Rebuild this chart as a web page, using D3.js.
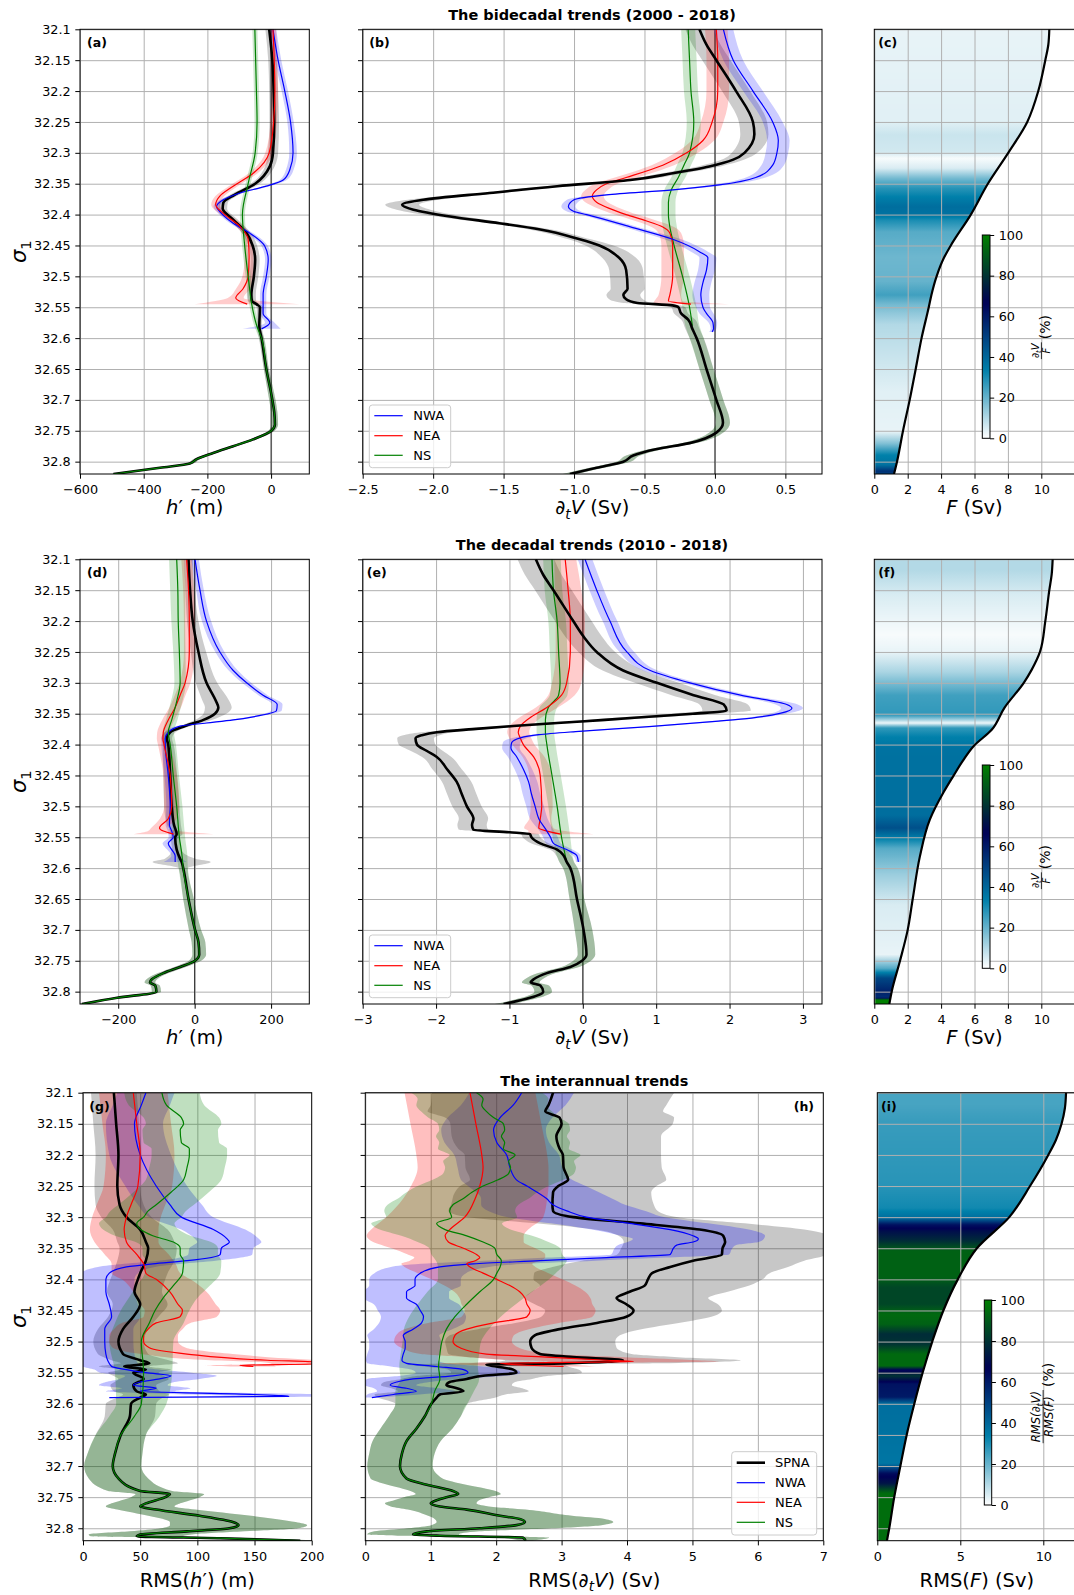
<!DOCTYPE html>
<html><head><meta charset="utf-8">
<script src="https://cdn.jsdelivr.net/npm/d3@7"></script>
<style>body{margin:0;background:#fff;} svg{display:block;}</style>
</head><body>
<script>
// ================= DATA =================
const sigmaTicks = [32.1,32.15,32.2,32.25,32.3,32.35,32.4,32.45,32.5,32.55,32.6,32.65,32.7,32.75,32.8];
const sigmaRange = [32.1, 32.82];
const titles = ["The bidecadal trends (2000 - 2018)","The decadal trends (2010 - 2018)","The interannual trends"];
const legendRows12 = ["NWA","NEA","NS"];
const legendRows3 = ["SPNA","NWA","NEA","NS"];
const xTicks_a = [-600,-400,-200,0];
const xTicks_b = [-2.5,-2.0,-1.5,-1.0,-0.5,0.0,0.5];
const xTicks_c = [0,2,4,6,8,10];
const xTicks_d = [-200,0,200];
const xTicks_e = [-3,-2,-1,0,1,2,3];
const xTicks_g = [0,50,100,150,200];
const xTicks_h = [0,1,2,3,4,5,6,7];
const xTicks_i = [0,5,10];
const cbarTicks = [0,20,40,60,80,100];

// each point: [sigma1, value, band half-width]
// ---- (a) h' bidecadal (m)
const a_SPNA = [[32.10,-6,12],[32.15,4,13],[32.20,8,14],[32.25,10,15],[32.30,6,16],[32.322,-4,15],[32.35,-50,14],[32.368,-115,14],[32.381,-150,14],[32.39,-152,14],[32.408,-119,14],[32.43,-77,14],[32.45,-58,14],[32.473,-50,14],[32.50,-54,14],[32.53,-62,14],[32.54,-60,13],[32.545,-46,12],[32.55,-35,10],[32.58,-37,8]];
const a_deep = [[32.60,-30,8],[32.65,-15,8],[32.70,4,10],[32.72,10,10],[32.74,12,10],[32.75,1,10],[32.764,-57,10],[32.775,-119,10],[32.786,-182,10],[32.796,-234,10],[32.803,-255,10],[32.81,-349,8],[32.82,-495,6]];
const a_NWA = [[32.10,6,10],[32.15,22,10],[32.20,43,10],[32.25,61,10],[32.30,69,12],[32.327,59,12],[32.344,38,11],[32.354,-15,10],[32.365,-98,10],[32.376,-150,10],[32.387,-171,10],[32.398,-156,10],[32.414,-119,10],[32.43,-67,10],[32.451,-20,10],[32.473,-9,10],[32.50,-15,10],[32.53,-25,10],[32.56,-25,10],[32.575,-4,15],[32.585,-30,60]];
const a_NEA = [[32.10,6,10],[32.15,10,10],[32.20,12,10],[32.25,8,10],[32.30,-6,12],[32.333,-56,14],[32.354,-119,14],[32.37,-161,14],[32.384,-174,14],[32.398,-150,14],[32.419,-98,12],[32.44,-72,12],[32.47,-69,14],[32.50,-72,18],[32.52,-88,22],[32.535,-111,25],[32.545,-75,165]];
const a_NS = [[32.10,-51,8],[32.20,-46,8],[32.25,-44,8],[32.30,-50,8],[32.35,-72,8],[32.40,-90,8],[32.45,-83,8],[32.50,-72,8],[32.55,-59,8],[32.58,-45,8]];

// ---- (b) dV/dt bidecadal (Sv)
const b_SPNA = [[32.10,-0.11,0.1],[32.125,-0.06,0.1],[32.15,0.01,0.1],[32.20,0.15,0.1],[32.25,0.27,0.1],[32.27,0.28,0.1],[32.30,0.21,0.09],[32.311,0.13,0.08],[32.322,-0.04,0.08],[32.333,-0.3,0.08],[32.344,-0.6,0.08],[32.354,-1.12,0.08],[32.365,-1.6,0.09],[32.376,-2.07,0.11],[32.384,-2.22,0.12],[32.392,-2.14,0.12],[32.403,-1.88,0.1],[32.414,-1.53,0.08],[32.424,-1.24,0.08],[32.44,-0.96,0.08],[32.45,-0.82,0.1],[32.47,-0.68,0.12],[32.49,-0.63,0.12],[32.52,-0.62,0.12],[32.53,-0.65,0.12],[32.537,-0.63,0.12],[32.543,-0.55,0.1],[32.547,-0.3,0.06],[32.55,-0.26,0.05],[32.56,-0.24,0.05],[32.57,-0.19,0.05],[32.585,-0.16,0.05]];
const b_deep = [[32.60,-0.13,0.05],[32.65,-0.06,0.05],[32.70,0.01,0.05],[32.737,0.057,0.05],[32.753,0.01,0.05],[32.77,-0.18,0.05],[32.78,-0.42,0.05],[32.79,-0.58,0.05],[32.80,-0.65,0.05],[32.81,-0.84,0.05],[32.82,-1.03,0.05]];
const b_NWA = [[32.10,0.06,0.07],[32.15,0.13,0.07],[32.20,0.27,0.07],[32.25,0.41,0.07],[32.28,0.45,0.08],[32.30,0.44,0.08],[32.32,0.41,0.08],[32.34,0.29,0.07],[32.352,0.03,0.06],[32.36,-0.3,0.05],[32.368,-0.77,0.05],[32.376,-1.0,0.05],[32.387,-1.04,0.05],[32.395,-1.0,0.05],[32.40,-0.91,0.05],[32.42,-0.6,0.05],[32.44,-0.3,0.06],[32.46,-0.11,0.06],[32.47,-0.05,0.06],[32.49,-0.06,0.06],[32.51,-0.085,0.06],[32.53,-0.1,0.06],[32.55,-0.085,0.05],[32.56,-0.06,0.05],[32.575,-0.014,0.03],[32.585,-0.01,0.02],[32.59,-0.02,0.02]];
const b_NEA = [[32.10,0.01,0.08],[32.15,0.02,0.08],[32.20,0.02,0.08],[32.25,-0.02,0.08],[32.28,-0.085,0.08],[32.30,-0.2,0.08],[32.32,-0.37,0.08],[32.34,-0.63,0.08],[32.35,-0.77,0.08],[32.36,-0.84,0.08],[32.37,-0.87,0.08],[32.38,-0.84,0.08],[32.39,-0.75,0.08],[32.40,-0.63,0.08],[32.41,-0.49,0.08],[32.42,-0.37,0.08],[32.43,-0.32,0.08],[32.45,-0.3,0.08],[32.50,-0.3,0.08],[32.53,-0.32,0.08],[32.54,-0.33,0.1],[32.545,-0.17,0.27]];
const b_NS = [[32.10,-0.19,0.05],[32.15,-0.18,0.05],[32.20,-0.17,0.05],[32.25,-0.15,0.05],[32.30,-0.18,0.05],[32.32,-0.22,0.05],[32.34,-0.26,0.05],[32.36,-0.31,0.05],[32.38,-0.33,0.05],[32.40,-0.33,0.05],[32.42,-0.32,0.05],[32.45,-0.29,0.05],[32.50,-0.23,0.05],[32.55,-0.18,0.05],[32.58,-0.16,0.05]];

// ---- (c) F bidecadal (Sv) and ratio (%)
const c_F = [[32.10,10.48],[32.125,10.42],[32.15,10.24],[32.20,9.82],[32.25,9.16],[32.30,8.02],[32.35,6.8],[32.40,5.78],[32.45,4.58],[32.47,4.17],[32.50,3.73],[32.53,3.42],[32.55,3.26],[32.60,2.83],[32.65,2.48],[32.70,2.12],[32.75,1.72],[32.80,1.36],[32.82,1.18]];
const c_ratio = [[32.10,3],[32.25,4],[32.271,7],[32.298,6],[32.309,1],[32.325,5],[32.341,18],[32.357,28],[32.373,34],[32.387,38],[32.40,37],[32.409,30],[32.428,22],[32.47,19],[32.508,20],[32.53,25],[32.546,18],[32.578,10],[32.632,7],[32.686,4],[32.751,3],[32.77,16],[32.789,33],[32.805,37],[32.816,55],[32.82,48]];

// ---- (d) h' decadal (m)
const d_SPNA = [[32.10,-16,12],[32.15,-12,12],[32.20,-5,15],[32.25,10,20],[32.30,31,28],[32.33,56,35],[32.34,62,35],[32.35,53,30],[32.36,23,22],[32.37,-25,15],[32.38,-64,14],[32.39,-73,14],[32.40,-69,14],[32.45,-64,18],[32.50,-60,20],[32.53,-54,18],[32.545,-47,15],[32.55,-51,12],[32.57,-47,12],[32.585,-38,40],[32.59,-34,76]];
const d_deep = [[32.60,-30,12],[32.65,-16,14],[32.70,1,16],[32.72,10,18],[32.74,12,18],[32.75,1,16],[32.76,-38,15],[32.77,-82,14],[32.78,-112,14],[32.785,-117,14],[32.79,-103,12],[32.80,-100,12],[32.81,-203,10],[32.82,-295,8]];
const d_NWA = [[32.10,1,10],[32.15,14,10],[32.20,31,12],[32.25,66,12],[32.28,101,12],[32.30,136,12],[32.32,179,12],[32.335,216,14],[32.345,214,14],[32.355,153,10],[32.36,101,10],[32.365,31,10],[32.37,-38,10],[32.38,-69,10],[32.39,-77,10],[32.40,-77,10],[32.45,-69,10],[32.50,-64,10],[32.53,-66,10],[32.54,-60,10],[32.55,-56,12],[32.56,-69,15],[32.57,-60,12],[32.58,-51,10],[32.59,-51,30]];
const d_NEA = [[32.10,-21,14],[32.15,-16,14],[32.20,-14,14],[32.25,-14,14],[32.30,-25,14],[32.32,-38,14],[32.34,-51,15],[32.36,-69,16],[32.38,-82,16],[32.39,-83,16],[32.40,-80,16],[32.45,-64,18],[32.50,-60,20],[32.52,-69,22],[32.535,-92,22],[32.54,-82,40],[32.545,-55,105]];
const d_NS = [[32.10,-47,20],[32.15,-44,20],[32.20,-43,18],[32.25,-40,16],[32.30,-38,15],[32.33,-47,15],[32.36,-60,15],[32.38,-69,15],[32.40,-64,15],[32.45,-56,15],[32.50,-47,15],[32.55,-40,15],[32.58,-33,14]];

// ---- (e) dV/dt decadal (Sv)
const e_SPNA = [[32.10,-0.64,0.25],[32.125,-0.54,0.25],[32.15,-0.4,0.25],[32.20,-0.13,0.25],[32.225,0.01,0.25],[32.25,0.19,0.25],[32.28,0.55,0.28],[32.30,1.01,0.3],[32.32,1.51,0.3],[32.335,1.92,0.33],[32.345,1.96,0.33],[32.35,1.5,0.3],[32.355,0.9,0.27],[32.36,0.3,0.25],[32.365,-0.35,0.22],[32.37,-0.95,0.2],[32.375,-1.5,0.2],[32.38,-1.99,0.22],[32.385,-2.2,0.25],[32.39,-2.28,0.25],[32.40,-2.26,0.25],[32.41,-2.13,0.22],[32.42,-1.99,0.2],[32.44,-1.85,0.2],[32.46,-1.72,0.2],[32.48,-1.65,0.2],[32.50,-1.58,0.2],[32.52,-1.49,0.2],[32.53,-1.51,0.2],[32.538,-1.49,0.2],[32.542,-1.0,0.15],[32.545,-0.72,0.12],[32.55,-0.7,0.12],[32.56,-0.58,0.12],[32.57,-0.35,0.1],[32.58,-0.26,0.1],[32.59,-0.22,0.1]];
const e_deep = [[32.60,-0.17,0.1],[32.65,-0.08,0.1],[32.70,0.01,0.12],[32.74,0.05,0.12],[32.75,-0.01,0.12],[32.76,-0.17,0.12],[32.77,-0.49,0.12],[32.78,-0.67,0.12],[32.785,-0.71,0.12],[32.79,-0.58,0.12],[32.80,-0.54,0.12],[32.81,-0.72,0.12],[32.82,-1.08,0.12]];
const e_NWA = [[32.10,0.03,0.1],[32.15,0.19,0.1],[32.20,0.37,0.1],[32.25,0.6,0.1],[32.28,0.92,0.1],[32.30,1.46,0.1],[32.32,2.15,0.12],[32.335,2.78,0.15],[32.341,2.85,0.15],[32.349,2.7,0.12],[32.357,2.3,0.1],[32.362,1.85,0.1],[32.371,0.9,0.1],[32.379,-0.1,0.1],[32.384,-0.6,0.1],[32.389,-0.85,0.1],[32.397,-0.97,0.12],[32.405,-0.98,0.12],[32.42,-0.9,0.12],[32.44,-0.81,0.12],[32.46,-0.74,0.12],[32.48,-0.7,0.12],[32.50,-0.65,0.12],[32.52,-0.6,0.12],[32.54,-0.49,0.1],[32.55,-0.44,0.1],[32.56,-0.4,0.1],[32.57,-0.22,0.08],[32.58,-0.08,0.05],[32.59,-0.06,0.03]];
const e_NEA = [[32.10,-0.24,0.15],[32.15,-0.2,0.18],[32.20,-0.17,0.2],[32.25,-0.17,0.2],[32.30,-0.22,0.2],[32.32,-0.29,0.18],[32.34,-0.49,0.15],[32.355,-0.7,0.15],[32.37,-0.85,0.15],[32.38,-0.88,0.15],[32.39,-0.85,0.15],[32.40,-0.81,0.15],[32.42,-0.67,0.15],[32.45,-0.58,0.15],[32.50,-0.56,0.15],[32.52,-0.58,0.15],[32.535,-0.6,0.2],[32.54,-0.49,0.25],[32.545,-0.3,0.45]];
const e_NS = [[32.10,-0.42,0.12],[32.15,-0.4,0.12],[32.20,-0.35,0.12],[32.25,-0.33,0.12],[32.30,-0.31,0.12],[32.32,-0.33,0.12],[32.34,-0.47,0.12],[32.36,-0.51,0.12],[32.38,-0.51,0.12],[32.40,-0.49,0.12],[32.45,-0.42,0.12],[32.50,-0.35,0.12],[32.55,-0.29,0.12],[32.59,-0.22,0.1]];

// ---- (f) F decadal (Sv) and ratio (%)
const f_F = [[32.10,10.68],[32.125,10.62],[32.15,10.48],[32.20,10.24],[32.25,9.92],[32.279,9.42],[32.30,8.95],[32.34,7.8],[32.376,7.03],[32.403,5.93],[32.425,5.33],[32.451,4.73],[32.478,4.13],[32.521,3.33],[32.581,2.73],[32.65,2.3],[32.70,2.0],[32.75,1.54],[32.80,1.04],[32.82,0.9]];
const f_ratio = [[32.10,10],[32.117,10],[32.158,5],[32.222,1],[32.25,3],[32.282,11],[32.32,25],[32.352,27],[32.36,12],[32.365,2],[32.37,18],[32.373,27],[32.387,33],[32.406,37],[32.514,38],[32.535,46],[32.551,34],[32.568,22],[32.611,13],[32.66,5],[32.74,3],[32.762,22],[32.778,48],[32.80,58],[32.81,55],[32.813,100],[32.82,100]];

// ---- (g) RMS(h') interannual (m)
const g_SPNA = [[32.10,27,20],[32.15,29,20],[32.20,31,20],[32.25,30,20],[32.28,32,21],[32.30,38,22],[32.32,50,24],[32.34,55,25],[32.35,57,25],[32.37,55,25],[32.39,50,24],[32.40,48,24],[32.42,45,24],[32.44,50,24],[32.46,44,22],[32.48,35,22],[32.50,31,22],[32.52,35,22],[32.53,50,25],[32.535,58,25],[32.54,36,22],[32.545,55,22],[32.55,44,22],[32.56,53,22],[32.57,44,20],[32.58,47,20],[32.585,55,20],[32.59,50,20],[32.60,42,22],[32.62,41,22]];
const g_deep = [[32.65,33,22],[32.68,28,24],[32.70,26,25],[32.72,31,26],[32.74,50,28],[32.745,76,30],[32.75,72,30],[32.76,55,30],[32.765,50,30],[32.77,64,34],[32.78,102,45],[32.79,131,55],[32.795,136,60],[32.80,128,60],[32.805,91,50],[32.81,50,45],[32.813,47,40],[32.816,120,30],[32.82,190,20]];
const g_NWA = [[32.10,55,25],[32.12,51,25],[32.15,45,25],[32.20,50,27],[32.25,64,27],[32.28,76,28],[32.30,86,28],[32.32,114,28],[32.335,126,28],[32.34,128,28],[32.35,121,28],[32.36,120,28],[32.37,91,25],[32.375,61,25],[32.38,38,25],[32.39,23,25],[32.40,20,25],[32.42,20,25],[32.44,23,25],[32.46,25,25],[32.48,19,25],[32.50,19,25],[32.52,20,25],[32.54,25,25],[32.545,38,28],[32.55,55,40],[32.555,77,40],[32.56,67,35],[32.565,50,30],[32.57,44,30],[32.575,64,30],[32.58,50,30],[32.585,149,60],[32.588,180,40],[32.59,23,20]];
const g_NEA = [[32.10,44,30],[32.15,47,30],[32.20,50,30],[32.25,48,30],[32.28,42,30],[32.30,38,30],[32.32,36,30],[32.34,38,28],[32.36,47,28],[32.375,53,28],[32.39,55,30],[32.40,64,30],[32.42,76,32],[32.44,83,33],[32.45,87,33],[32.46,85,32],[32.47,64,30],[32.48,57,30],[32.49,53,30],[32.50,53,30],[32.51,58,32],[32.52,91,40],[32.53,161,50],[32.533,205,50],[32.536,205,40],[32.538,137,30],[32.54,149,20]];
const g_NS = [[32.10,69,33],[32.12,73,33],[32.14,86,33],[32.15,88,33],[32.16,85,33],[32.18,86,33],[32.19,93,33],[32.20,93,33],[32.22,91,33],[32.24,88,33],[32.26,77,33],[32.28,64,33],[32.29,57,33],[32.30,53,33],[32.31,47,33],[32.33,61,33],[32.34,79,33],[32.35,85,33],[32.36,85,33],[32.37,88,33],[32.39,87,33],[32.41,79,32],[32.43,70,30],[32.45,63,30],[32.47,58,30],[32.50,51,28],[32.55,53,25],[32.60,51,22],[32.62,45,22]];

// ---- (h) RMS(dV/dt) interannual (Sv)
const h_SPNA = [[32.10,2.87,1.85],[32.12,2.8,1.8],[32.13,2.75,1.8],[32.14,2.97,1.75],[32.15,3.0,1.7],[32.17,2.92,1.6],[32.19,2.97,1.55],[32.20,3.02,1.5],[32.22,3.03,1.5],[32.24,3.1,1.5],[32.25,2.95,1.5],[32.26,2.87,1.5],[32.28,2.86,1.55],[32.29,2.87,1.6],[32.30,3.18,1.6],[32.31,4.2,1.6],[32.32,5.11,1.6],[32.33,5.47,1.6],[32.34,5.5,1.55],[32.35,5.46,1.55],[32.36,5.45,1.6],[32.37,5.01,1.7],[32.38,4.66,1.8],[32.39,4.38,1.8],[32.40,4.32,1.75],[32.41,4.27,1.6],[32.42,4.04,1.5],[32.43,3.84,1.4],[32.44,3.99,1.4],[32.45,4.1,1.35],[32.46,3.99,1.3],[32.47,3.54,1.25],[32.48,2.97,1.25],[32.49,2.59,1.3],[32.50,2.52,1.3],[32.51,2.54,1.3],[32.52,2.67,1.4],[32.525,3.18,1.6],[32.53,3.94,1.8],[32.535,3.0,1.5],[32.537,1.85,1.2],[32.54,2.0,1.1],[32.545,2.26,1.0],[32.55,2.31,1.0],[32.555,1.8,1.0],[32.56,1.55,1.0],[32.565,1.29,1.0],[32.57,1.24,1.0],[32.575,1.4,1.0],[32.58,1.5,1.0],[32.585,1.14,1.0],[32.59,1.09,0.9]];
const h_deep = [[32.60,1.01,0.55],[32.62,0.91,0.55],[32.64,0.78,0.55],[32.66,0.63,0.52],[32.68,0.56,0.5],[32.70,0.53,0.5],[32.72,0.63,0.55],[32.73,0.94,0.6],[32.74,1.34,0.65],[32.745,1.42,0.65],[32.75,1.24,0.65],[32.755,1.09,0.65],[32.76,1.0,0.7],[32.765,1.14,0.75],[32.77,1.55,0.9],[32.78,2.06,1.1],[32.785,2.36,1.3],[32.79,2.44,1.35],[32.795,2.31,1.3],[32.80,1.75,1.1],[32.805,0.94,0.8],[32.81,0.73,0.7],[32.812,1.14,0.6],[32.815,2.41,0.4],[32.82,2.45,0.1]];
const h_NWA = [[32.10,2.39,0.8],[32.12,2.26,0.8],[32.14,2.06,0.8],[32.16,1.96,0.8],[32.18,2.01,0.8],[32.20,2.16,0.8],[32.22,2.21,0.8],[32.24,2.31,0.85],[32.25,2.47,0.9],[32.27,2.77,1.0],[32.28,2.87,1.1],[32.29,3.08,1.2],[32.30,3.38,1.2],[32.31,4.04,1.2],[32.32,4.66,1.2],[32.33,5.01,1.1],[32.335,5.09,1.0],[32.34,5.01,1.0],[32.345,4.76,0.9],[32.35,4.71,0.9],[32.36,4.66,0.9],[32.365,3.69,0.9],[32.37,2.67,0.85],[32.375,1.65,0.8],[32.38,1.14,0.75],[32.39,0.84,0.7],[32.40,0.76,0.7],[32.41,0.76,0.7],[32.42,0.63,0.65],[32.43,0.63,0.65],[32.44,0.78,0.65],[32.45,0.84,0.65],[32.46,0.89,0.65],[32.47,0.86,0.65],[32.48,0.73,0.6],[32.49,0.58,0.55],[32.50,0.61,0.55],[32.51,0.61,0.55],[32.52,0.58,0.55],[32.53,0.56,0.55],[32.535,0.63,0.6],[32.54,1.09,0.7],[32.545,1.5,0.8],[32.55,1.57,0.8],[32.555,1.34,0.8],[32.56,0.73,0.7],[32.565,0.48,0.5],[32.57,0.38,0.4],[32.575,0.63,0.5],[32.58,0.78,0.6],[32.585,0.43,0.4],[32.59,0.1,0.1]];
const h_NEA = [[32.10,1.6,1.0],[32.15,1.69,1.0],[32.20,1.78,1.0],[32.22,1.8,1.0],[32.25,1.75,1.05],[32.27,1.68,1.1],[32.30,1.52,1.2],[32.32,1.29,1.2],[32.33,1.22,1.2],[32.34,1.27,1.15],[32.35,1.5,1.1],[32.36,1.7,1.05],[32.365,1.75,1.0],[32.37,1.68,1.0],[32.375,1.55,1.0],[32.38,1.6,1.0],[32.39,1.8,1.0],[32.40,2.01,1.0],[32.41,2.21,1.0],[32.42,2.36,1.0],[32.43,2.44,1.0],[32.44,2.47,1.0],[32.45,2.52,1.0],[32.46,2.47,1.0],[32.47,1.96,1.0],[32.48,1.55,0.95],[32.49,1.37,0.9],[32.50,1.34,0.9],[32.51,1.45,0.9],[32.52,1.85,1.0],[32.525,2.77,1.2],[32.53,3.69,1.4],[32.532,4.1,1.3],[32.535,2.06,1.0],[32.538,2.47,0.8],[32.54,3.03,0.5]];
const h_NS = [[32.10,1.7,1.0],[32.11,1.8,1.0],[32.12,1.78,1.0],[32.13,1.85,1.0],[32.14,1.96,1.0],[32.15,2.11,1.0],[32.16,2.13,1.0],[32.17,2.08,1.0],[32.18,2.13,1.0],[32.19,2.11,1.0],[32.20,2.29,1.0],[32.21,2.19,1.0],[32.22,2.22,1.0],[32.23,2.19,1.0],[32.24,2.03,1.0],[32.25,1.8,1.0],[32.26,1.63,1.0],[32.27,1.5,1.0],[32.28,1.34,1.0],[32.29,1.29,1.0],[32.30,1.32,1.0],[32.31,1.09,1.0],[32.32,1.22,1.0],[32.33,1.55,1.0],[32.34,1.8,1.0],[32.35,1.98,1.0],[32.36,2.01,1.0],[32.37,2.08,1.0],[32.38,2.06,0.95],[32.39,2.01,0.9],[32.40,1.96,0.85],[32.42,1.75,0.8],[32.44,1.55,0.75],[32.46,1.37,0.7],[32.48,1.24,0.65],[32.50,1.17,0.6],[32.52,1.14,0.6],[32.54,1.12,0.6],[32.56,1.14,0.6],[32.58,1.06,0.6]];

// ---- (i) RMS(F) interannual (Sv) and ratio (%)
const i_F = [[32.10,11.37],[32.125,11.3],[32.15,11.1],[32.176,10.76],[32.20,10.3],[32.25,9.2],[32.30,7.95],[32.35,6.0],[32.40,4.85],[32.45,3.98],[32.50,3.31],[32.55,2.73],[32.60,2.23],[32.65,1.77],[32.70,1.39],[32.75,1.02],[32.80,0.72],[32.82,0.58]];
const i_ratio = [[32.10,24],[32.119,24],[32.146,26],[32.247,28],[32.285,31],[32.301,38],[32.312,62],[32.322,70],[32.338,78],[32.354,92],[32.397,92],[32.413,85],[32.44,85],[32.456,94],[32.472,92],[32.488,78],[32.504,80],[32.52,94],[32.539,94],[32.546,65],[32.555,80],[32.568,62],[32.589,60],[32.60,38],[32.696,36],[32.712,64],[32.728,72],[32.744,95],[32.82,95]];

// ================= RENDER =================
const W = 1074, H = 1595;
const FONT = "DejaVu Sans";
const colors = {SPNA:"#000000", NWA:"#0000ff", NEA:"#ff0000", NS:"#008000"};
const svg = d3.select("body").append("svg").attr("width",W).attr("height",H)
  .attr("font-family",FONT);
svg.append("rect").attr("width",W).attr("height",H).attr("fill","#fff");
const defs = svg.append("defs");

// matplotlib "ocean_r" colormap (piecewise linear)
const oceanR = d3.scaleLinear().domain([0,100/3,200/3,100])
  .range(["rgb(255,255,255)","rgb(0,128,170)","rgb(0,0,85)","rgb(0,128,0)"]).clamp(true);

const fmtSig = d => String(+d.toFixed(2));

function setupAxes(P){
  const x = d3.scaleLinear().domain(P.xdom).range([P.L,P.R]);
  const y = d3.scaleLinear().domain(sigmaRange).range([P.T,P.B]);
  const id = "clip_"+P.id;
  defs.append("clipPath").attr("id",id).append("rect")
    .attr("x",P.L).attr("y",P.T).attr("width",P.R-P.L).attr("height",P.B-P.T);
  return {x,y,P,clip:`url(#${id})`};
}
function drawGrid(ax){
  const {x,y,P} = ax;
  const gg = svg.append("g").attr("clip-path",ax.clip);
  gg.append("g").attr("transform",`translate(0,${P.B})`)
    .call(d3.axisBottom(x).tickValues(P.xticks).tickSize(-(P.B-P.T)).tickFormat(""))
    .call(g=>{g.select(".domain").remove(); g.selectAll("line").attr("stroke","#b0b0b0").attr("stroke-width",1);});
  gg.append("g").attr("transform",`translate(${P.L},0)`)
    .call(d3.axisLeft(y).tickValues(sigmaTicks).tickSize(-(P.R-P.L)).tickFormat(""))
    .call(g=>{g.select(".domain").remove(); g.selectAll("line").attr("stroke","#b0b0b0").attr("stroke-width",1);});
}
function styleAxis(g){
  g.select(".domain").remove();
  g.attr("font-family",FONT).attr("font-size",12.8);
  g.selectAll("line").attr("stroke","#000").attr("stroke-width",1);
  g.selectAll("text").attr("fill","#000");
}
function drawFrameAxes(ax, yMode){
  const {x,y,P} = ax;
  svg.append("rect").attr("x",P.L).attr("y",P.T).attr("width",P.R-P.L).attr("height",P.B-P.T)
    .attr("fill","none").attr("stroke","#000").attr("stroke-width",1);
  svg.append("g").attr("transform",`translate(0,${P.B})`)
    .call(d3.axisBottom(x).tickValues(P.xticks).tickFormat(P.fmt).tickSize(4.7).tickPadding(6.3))
    .call(styleAxis);
  if (yMode !== "none") {
    svg.append("g").attr("transform",`translate(${P.L},0)`)
      .call(d3.axisLeft(y).tickValues(sigmaTicks).tickFormat(yMode==="labels"? fmtSig : "").tickSize(4.7).tickPadding(4.6))
      .call(styleAxis);
  }
}
function richText(g, parts, size){
  const t = g.append("text").attr("font-size",size).attr("fill","#000");
  let shift = 0;
  parts.forEach(p=>{
    const ts = t.append("tspan").text(p.t);
    const target = p.sub ? size*0.24 : 0;
    if (target !== shift) { ts.attr("dy", target - shift); shift = target; }
    if (p.sub) ts.attr("font-size", size*0.7);
    if (p.i) ts.attr("font-style","italic");
  });
  return t;
}
function xLabel(P, parts, baseline){
  richText(svg, parts, 19.5).attr("x",(P.L+Math.min(P.R,W))/2 + (P.labShift||0)).attr("y",baseline).attr("text-anchor","middle");
}
function sigmaLabel(P){
  const g = svg.append("g").attr("transform",`translate(26,${(P.T+P.B)/2}) rotate(-90)`);
  richText(g, [{t:"σ",i:true},{t:"1",sub:true}], 21).attr("text-anchor","middle");
}
function panelTag(x, y, txt, anchor){
  svg.append("text").attr("x",x).attr("y",y).attr("font-size",12.5).attr("font-weight","bold")
    .attr("text-anchor",anchor||"start").text(txt);
}
function profilePanel(P, S, opt){
  const ax = setupAxes(P);
  drawGrid(ax);
  if (opt.zero) {
    svg.append("line").attr("x1",ax.x(0)).attr("x2",ax.x(0)).attr("y1",P.T).attr("y2",P.B)
      .attr("stroke","#222").attr("stroke-width",1);
  }
  const area = d3.area().curve(d3.curveMonotoneY).y(d=>ax.y(d[0]))
    .x0(d=>ax.x(d[1]-d[2])).x1(d=>ax.x(d[1]+d[2]));
  const line = d3.line().curve(d3.curveMonotoneY).y(d=>ax.y(d[0])).x(d=>ax.x(d[1]));
  const bg = svg.append("g").attr("clip-path",ax.clip);
  ["SPNA","NWA","NEA","NS"].forEach(k=>{
    bg.append("path").attr("d",area(S[k].band)).attr("fill",colors[k])
      .attr("fill-opacity", k==="SPNA" ? opt.alphaK : opt.alpha);
  });
  const lg = svg.append("g").attr("clip-path",ax.clip);
  opt.order.forEach(k=>{
    lg.append("path").attr("d",line(S[k].line)).attr("fill","none").attr("stroke",colors[k])
      .attr("stroke-width",k==="SPNA"?2.6:1.2).attr("stroke-linejoin","round");
  });
  drawFrameAxes(ax, opt.yMode);
  return ax;
}
function fluxPanel(P, F, ratio){
  const ax = setupAxes(P);
  const rs = d3.scaleLinear().domain(ratio.map(d=>d[0])).range(ratio.map(d=>d[1])).clamp(true);
  const gid = "grad_"+P.id;
  const grad = defs.append("linearGradient").attr("id",gid).attr("gradientUnits","userSpaceOnUse")
    .attr("x1",0).attr("x2",0).attr("y1",P.T).attr("y2",P.B);
  const N = 450;
  d3.range(N+1).forEach(i=>{
    const s = ax.y.invert(P.T + (P.B-P.T)*i/N);
    grad.append("stop").attr("offset",i/N).attr("stop-color",oceanR(rs(s)));
  });
  const area = d3.area().curve(d3.curveMonotoneY).y(d=>ax.y(d[0])).x0(ax.x(0)).x1(d=>ax.x(d[1]));
  svg.append("path").attr("d",area(F)).attr("fill",`url(#${gid})`).attr("clip-path",ax.clip);
  drawGrid(ax);
  const line = d3.line().curve(d3.curveMonotoneY).y(d=>ax.y(d[0])).x(d=>ax.x(d[1]));
  svg.append("path").attr("d",line(F)).attr("fill","none").attr("stroke","#000").attr("stroke-width",2.2).attr("clip-path",ax.clip);
  drawFrameAxes(ax, "none");
  return ax;
}
function colorbar(id, x, y, w, h){
  const gid = "cb_"+id;
  const grad = defs.append("linearGradient").attr("id",gid).attr("x1",0).attr("x2",0).attr("y1",1).attr("y2",0);
  d3.range(0,101,2).forEach(v=>grad.append("stop").attr("offset",v/100).attr("stop-color",oceanR(v)));
  svg.append("rect").attr("x",x).attr("y",y).attr("width",w).attr("height",h).attr("fill",`url(#${gid})`)
    .attr("stroke","#000").attr("stroke-width",1);
  const sc = d3.scaleLinear().domain([0,100]).range([y+h,y]);
  svg.append("g").attr("transform",`translate(${x+w},0)`)
    .call(d3.axisRight(sc).tickValues(cbarTicks).tickSize(4.2).tickPadding(4.5))
    .call(styleAxis);
}
function cbarLabel(cx, cy, num, den, fs, sfs){
  const g = svg.append("g").attr("transform",`translate(${cx},${cy}) rotate(-90)`);
  const tNum = richText(g, num, fs).attr("text-anchor","middle");
  const tDen = richText(g, den, fs).attr("text-anchor","middle");
  const tSuf = g.append("text").attr("font-size",sfs).text("(%)");
  const wf = Math.max(tNum.node().getComputedTextLength(), tDen.node().getComputedTextLength());
  const ws = tSuf.node().getComputedTextLength();
  const gap = 4;
  const total = wf + gap + ws;
  const fx = -total/2 + wf/2;
  tNum.attr("x",fx).attr("y",-fs*1.12);
  tDen.attr("x",fx).attr("y",0);
  g.append("line").attr("x1",fx-wf/2-1).attr("x2",fx+wf/2+1).attr("y1",-fs*0.86).attr("y2",-fs*0.86)
    .attr("stroke","#000").attr("stroke-width",0.8);
  tSuf.attr("x",-total/2 + wf + gap).attr("y",0);
}
function legend(x, y, w, h, rows, rowY, lx0, lx1, tx){
  svg.append("rect").attr("x",x).attr("y",y).attr("width",w).attr("height",h).attr("rx",3)
    .attr("fill","#fff").attr("fill-opacity",0.8).attr("stroke","#cccccc").attr("stroke-width",1);
  rows.forEach((k,i)=>{
    svg.append("line").attr("x1",lx0).attr("x2",lx1).attr("y1",rowY[i]).attr("y2",rowY[i])
      .attr("stroke",colors[k]).attr("stroke-width",k==="SPNA"?2.6:1.2);
    svg.append("text").attr("x",tx).attr("y",rowY[i]).attr("dy","0.36em").attr("font-size",13).text(k);
  });
}

// ---- panel layout
const fInt = d3.format("d"), f1 = d3.format(".1f");
const P = {
  a:{id:"a",L:80,R:309.3,T:29.3,B:474,xdom:[-600,120],xticks:xTicks_a,fmt:fInt},
  b:{id:"b",L:362.7,R:822,T:29.3,B:474,xdom:[-2.5,0.76],xticks:xTicks_b,fmt:f1},
  c:{id:"c",L:874.3,R:1074.7,T:29.3,B:474,xdom:[0,12],xticks:xTicks_c,fmt:fInt},
  d:{id:"d",L:80,R:309.3,T:559.3,B:1004,xdom:[-300,300],xticks:xTicks_d,fmt:fInt},
  e:{id:"e",L:362.7,R:822,T:559.3,B:1004,xdom:[-3,3.26],xticks:xTicks_e,fmt:fInt},
  f:{id:"f",L:874.3,R:1074.7,T:559.3,B:1004,xdom:[0,12],xticks:xTicks_c,fmt:fInt},
  g:{id:"g",L:83,R:311.7,T:1092.7,B:1540.7,xdom:[0,200],xticks:xTicks_g,fmt:fInt},
  h:{id:"h",L:365.3,R:823.3,T:1092.7,B:1540.7,xdom:[0,7],xticks:xTicks_h,fmt:fInt},
  i:{id:"i",L:877.3,R:1076.5,T:1092.7,B:1540.7,xdom:[0,12],xticks:xTicks_i,fmt:fInt}
};
P.c.labShift = 0.3; P.f.labShift = 0.3; P.i.labShift = 1.2;

const full = (up, deep) => up.concat(deep);
const row12opt = (zero, order, yMode) => ({alpha:0.2, alphaK:0.2, zero, order, yMode});
const orderA = ["SPNA","NWA","NEA","NS"], orderB = ["NS","NEA","NWA","SPNA"];

// Row 1
profilePanel(P.a, {SPNA:{band:full(a_SPNA,a_deep),line:full(a_SPNA,a_deep)},NWA:{band:a_NWA,line:a_NWA},NEA:{band:a_NEA,line:a_NEA},NS:{band:full(a_NS,a_deep),line:full(a_NS,a_deep)}}, row12opt(true,orderA,"labels"));
profilePanel(P.b, {SPNA:{band:full(b_SPNA,b_deep),line:full(b_SPNA,b_deep)},NWA:{band:b_NWA,line:b_NWA},NEA:{band:b_NEA,line:b_NEA},NS:{band:full(b_NS,b_deep),line:b_NS}}, row12opt(true,orderB,"ticks"));
fluxPanel(P.c, c_F, c_ratio);
// Row 2
profilePanel(P.d, {SPNA:{band:full(d_SPNA,d_deep),line:full(d_SPNA,d_deep)},NWA:{band:d_NWA,line:d_NWA},NEA:{band:d_NEA,line:d_NEA},NS:{band:full(d_NS,d_deep),line:full(d_NS,d_deep)}}, row12opt(true,orderA,"labels"));
profilePanel(P.e, {SPNA:{band:full(e_SPNA,e_deep),line:full(e_SPNA,e_deep)},NWA:{band:e_NWA,line:e_NWA},NEA:{band:e_NEA,line:e_NEA},NS:{band:full(e_NS,e_deep),line:e_NS}}, row12opt(true,orderB,"ticks"));
fluxPanel(P.f, f_F, f_ratio);
// Row 3
profilePanel(P.g, {SPNA:{band:full(g_SPNA,g_deep),line:full(g_SPNA,g_deep)},NWA:{band:g_NWA,line:g_NWA},NEA:{band:g_NEA,line:g_NEA},NS:{band:full(g_NS,g_deep),line:full(g_NS,g_deep)}}, {alpha:0.25,alphaK:0.22,zero:false,order:orderA,yMode:"labels"});
profilePanel(P.h, {SPNA:{band:full(h_SPNA,h_deep),line:full(h_SPNA,h_deep)},NWA:{band:h_NWA,line:h_NWA},NEA:{band:h_NEA,line:h_NEA},NS:{band:full(h_NS,h_deep),line:full(h_NS,h_deep)}}, {alpha:0.25,alphaK:0.22,zero:false,order:orderA,yMode:"ticks"});
fluxPanel(P.i, i_F, i_ratio);

// colorbars
colorbar("c", 982.3, 235, 7.7, 203.3);
colorbar("f", 982.3, 765, 7.7, 203.3);
colorbar("i", 984.3, 1300, 7.4, 205);
const partialV = [{t:"∂",i:true},{t:"t",i:true,sub:true},{t:"V",i:true}];
cbarLabel(1050, 336.6, partialV, [{t:"F",i:true}], 10, 14);
cbarLabel(1050, 866.6, partialV, [{t:"F",i:true}], 10, 14);
cbarLabel(1053, 1402.5, [{t:"RMS(",i:true},{t:"∂",i:true},{t:"t",i:true,sub:true},{t:"V",i:true},{t:")",i:true}], [{t:"RMS(F)",i:true}], 11.5, 14);

// labels
const hLab = [{t:"h",i:true},{t:"′"},{t:" (m)"}];
const dLab = [{t:"∂",i:true},{t:"t",i:true,sub:true},{t:"V",i:true},{t:" (Sv)"}];
const fLab = [{t:"F",i:true},{t:" (Sv)"}];
xLabel(P.a, hLab, 514); xLabel(P.b, dLab, 514); xLabel(P.c, fLab, 514);
xLabel(P.d, hLab, 1044); xLabel(P.e, dLab, 1044); xLabel(P.f, fLab, 1044);
xLabel(P.g, [{t:"RMS("},{t:"h",i:true},{t:"′"},{t:") (m)"}], 1586.5);
xLabel(P.h, [{t:"RMS("},{t:"∂",i:true},{t:"t",i:true,sub:true},{t:"V",i:true},{t:") (Sv)"}], 1586.5);
xLabel(P.i, [{t:"RMS("},{t:"F",i:true},{t:") (Sv)"}], 1586.5);
sigmaLabel(P.a); sigmaLabel(P.d); sigmaLabel(P.g);

// titles
[[592,19.5],[592,549.7],[594.3,1085.5]].forEach((p,i)=>{
  svg.append("text").attr("x",p[0]).attr("y",p[1]).attr("text-anchor","middle")
    .attr("font-size",14.5).attr("font-weight","bold").text(titles[i]);
});
// panel tags
panelTag(87,46.5,"(a)"); panelTag(369.3,46.5,"(b)"); panelTag(878.3,46.5,"(c)");
panelTag(87,576.5,"(d)"); panelTag(366.7,576.5,"(e)"); panelTag(878.3,576.5,"(f)");
panelTag(89.3,1111,"(g)"); panelTag(814,1110.5,"(h)","end"); panelTag(881,1111,"(i)");

// legends
legend(369.3,405,81.4,62.7,legendRows12,[415.7,435.7,455.3],374.3,402.7,413.3);
legend(369.3,935,81.4,62.7,legendRows12,[945.7,965.7,985.3],374.3,402.7,413.3);
legend(731.7,1451.7,85,83.3,legendRows3,[1462.7,1482.7,1502.3,1522.3],736.7,765,775);
</script>
</body></html>
